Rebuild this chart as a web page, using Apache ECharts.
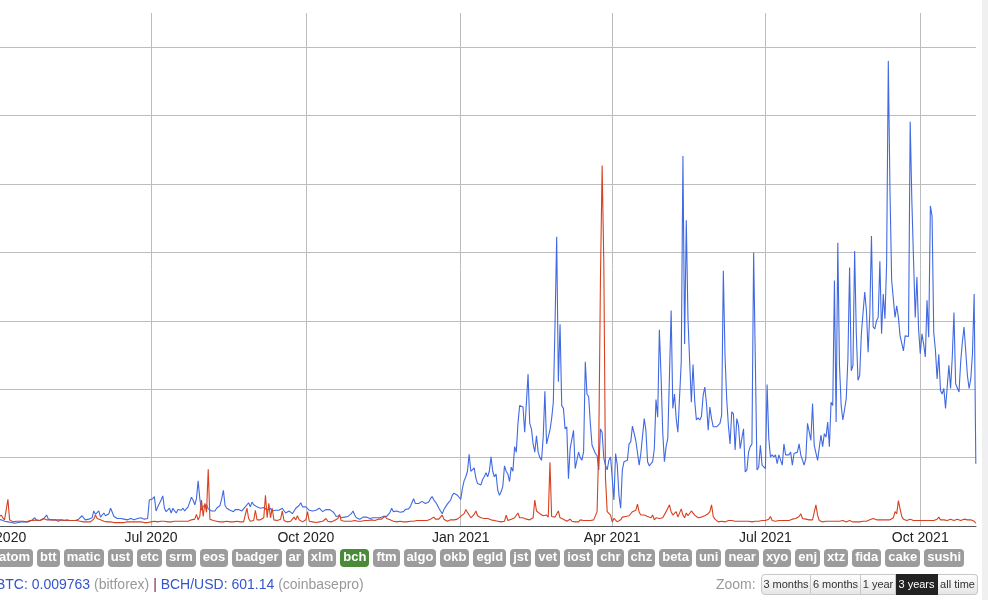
<!DOCTYPE html>
<html>
<head>
<meta charset="utf-8">
<script src="https://cdn.jsdelivr.net/npm/echarts@6/dist/echarts.min.js"></script>
<style>
html,body{margin:0;padding:0;width:988px;height:600px;overflow:hidden;background:#fff;font-family:Arial,"Liberation Sans",sans-serif;}
#chart{position:absolute;left:0;top:0;width:988px;height:600px;}
#tags{position:absolute;left:-4px;top:549px;white-space:nowrap;font-size:0;}
#tags span{display:inline-block;height:18px;line-height:18px;padding:0 3px;margin-right:4px;border-radius:4px;background:#9c9c9c;color:#fff;font:bold 13px Arial,"Liberation Sans",sans-serif;vertical-align:top;}
#tags span.on{background:#4a8a3a;}
#info{position:absolute;left:-37.5px;top:576px;font-size:14px;line-height:16px;white-space:nowrap;color:#3355cc;}
#info .g{color:#999;}
#info .s{color:#7a1848;}
#zoomlbl{position:absolute;left:716px;top:576px;font-size:14px;line-height:16px;color:#999;}
#zoombtns{position:absolute;left:761px;top:574px;height:21px;display:flex;}
#zoombtns div{box-sizing:border-box;height:21px;line-height:19px;border:1px solid #c8c8c8;border-left:none;font-size:11px;color:#333;text-align:center;background:linear-gradient(#fdfdfd,#e6e6e6);white-space:nowrap;}
#zoombtns div:first-child{border-left:1px solid #c8c8c8;border-radius:4px 0 0 4px;}
#zoombtns div:last-child{border-radius:0 4px 4px 0;}
#zoombtns div.on{background:#222;color:#fff;border-color:#222;}
#strip{position:absolute;left:982px;top:0;width:6px;height:600px;background:#f0f0f0;}
</style>
</head>
<body>
<div id="chart"></div>
<div id="tags"></div>
<div id="info"></div>
<div id="zoomlbl">Zoom:</div>
<div id="zoombtns"></div>
<div id="strip"></div>
<script>
// ---- data (one value per day, starting 2020-04-01) ----
const startYear = 2020, startMonth = 3, startDay = 1;

const blueSeries = [
10,9,9,8,7,8,6,6,5,4,
4,4,5,5,6,5,6,7,6,7,
8,9,12,8,9,8,9,10,11,16,
10,8,9,8,9,8,7,8,9,8,
8,7,8,9,8,7,8,9,10,9,
15,12,9,9,10,9,12,22,17,18,
22,13,11,19,15,14,18,26,20,14,
13,11,10,11,12,10,11,9,10,11,
10,9,10,11,10,12,11,10,10,11,
38,36,40,43,22,28,33,38,44,26,
21,20,26,19,26,22,19,24,25,23,
26,22,23,28,35,42,38,31,40,66,
40,23,29,27,31,25,23,22,24,22,
26,24,30,40,52,30,26,24,23,21,
21,24,26,24,23,22,25,28,30,34,
28,35,31,29,28,27,26,28,27,28,
23,25,26,22,21,23,24,23,24,26,
26,19,21,22,20,18,22,26,24,30,
34,28,27,28,26,23,22,22,24,23,
25,26,24,21,22,24,26,24,22,21,
18,14,16,15,12,11,13,14,14,16,
18,22,16,12,11,10,12,13,12,13,
12,11,10,12,14,12,11,12,13,14,
13,14,15,20,26,21,19,22,23,20,
22,21,24,26,25,28,34,40,33,31,
33,34,36,38,33,31,35,40,43,38,
35,31,26,22,18,24,28,32,35,38,
45,48,50,45,42,39,55,66,72,80,
105,80,78,85,70,62,62,60,68,72,
78,72,80,101,80,72,76,52,45,50,
58,88,80,76,65,86,80,116,108,150,
176,178,174,137,135,222,150,142,120,108,
132,108,100,96,130,197,120,118,140,157,
181,293,423,211,295,176,172,142,145,69,
113,113,140,84,96,108,100,96,109,240,
193,189,150,118,120,106,103,82,142,137,
99,89,82,96,101,70,38,106,89,45,
26,82,94,95,96,120,123,146,145,125,
123,89,106,108,157,140,94,88,87,94,
113,185,159,287,220,137,94,116,128,220,
315,172,193,157,137,136,240,541,266,447,
303,240,181,236,183,155,158,155,160,191,
203,179,140,174,157,145,146,145,144,150,
162,373,249,186,147,120,167,164,111,157,
147,113,128,142,79,82,108,116,120,400,
244,82,86,118,89,89,84,207,128,101,
104,101,104,91,104,104,89,120,104,104,
104,108,89,106,104,108,120,104,104,89,
99,150,138,125,179,118,118,96,96,133,
116,135,130,152,116,181,176,359,152,414,
235,176,155,170,186,244,378,227,235,402,
281,213,220,281,283,342,315,254,310,424,
291,288,300,305,387,281,339,303,383,680,
490,359,359,305,322,305,278,278,256,278,
277,277,591,475,388,305,364,288,252,281,
266,247,330,276,468,453,283,257,215,251,
198,193,201,172,172,235,201,247,312,208,
208,196,240,269,291,291,220,201,215,252,
339,91
];

const redSeries = [
12,14,16,12,9,10,39,9,7,6,
6,7,6,7,8,7,7,6,7,8,
7,8,10,9,9,8,9,11,9,9,
8,9,8,9,10,9,8,9,8,8,
9,9,8,8,9,8,8,8,7,7,
7,6,7,6,7,6,8,10,16,11,
9,9,8,7,6,6,7,6,6,5,
6,5,5,5,6,5,5,6,6,6,
6,6,5,6,5,6,5,5,5,5,
6,6,6,7,6,6,7,7,8,7,
7,6,6,6,6,7,7,7,8,7,
8,7,8,7,8,9,9,10,17,9,
14,38,14,33,20,83,10,9,8,7,
7,6,6,6,6,6,7,6,6,6,
6,6,7,6,6,7,6,7,26,11,
7,6,8,23,9,8,9,9,12,45,
12,33,12,26,9,8,8,9,10,22,
8,6,6,7,7,8,13,9,15,9,
7,6,7,9,21,7,6,6,5,5,
5,6,6,7,8,11,7,6,6,7,
8,9,11,17,8,6,7,8,7,8,
7,7,8,7,7,8,7,7,8,9,
8,8,9,8,8,9,10,9,10,11,
14,11,10,9,8,7,7,6,6,7,
6,6,7,6,7,7,8,7,8,8,
7,8,9,8,9,8,9,10,11,13,
10,9,10,11,16,10,8,7,8,9,
10,9,11,10,12,14,16,18,24,20,
16,12,14,17,22,15,14,12,10,11,
12,11,10,9,8,8,7,7,6,6,
6,7,16,8,9,10,11,12,11,19,
12,11,12,13,10,11,9,11,12,38,
22,22,18,17,15,14,16,13,93,14,
13,13,15,22,12,11,10,9,7,8,
10,7,8,6,7,6,9,11,8,7,
8,7,8,9,9,9,21,118,360,527,
385,70,21,19,16,6,11,9,6,8,
9,13,12,14,15,15,16,21,21,23,
32,20,16,16,16,15,14,13,12,16,
9,12,13,11,10,12,12,21,21,31,
21,16,16,21,13,15,25,16,12,19,
15,16,22,21,16,16,12,13,13,14,
15,16,18,21,31,14,10,8,6,6,
7,7,6,7,8,7,8,9,7,6,
7,8,7,6,7,8,7,7,6,6,
7,8,7,8,8,7,8,9,10,14,
8,6,7,7,8,9,8,9,8,9,
8,9,10,9,11,10,14,18,11,12,
10,9,9,8,9,10,31,16,8,7,
6,7,7,6,7,8,7,6,7,7,
7,6,8,7,6,7,8,7,6,7,
6,7,6,8,7,6,7,8,9,10,
11,10,9,8,9,10,9,8,9,8,
9,10,12,21,18,37,25,14,10,9,
8,9,10,9,8,9,8,9,8,7,
8,7,8,9,8,7,8,9,10,13,
9,8,9,10,8,9,10,9,8,9,
10,9,8,9,10,8,9,10,9,8,
7,4
];

const quarterDates = [[2020,4,1],[2020,7,1],[2020,10,1],[2021,1,1],[2021,4,1],[2021,7,1],[2021,10,1]];
const quarterLabels = ['Apr 2020','Jul 2020','Oct 2020','Jan 2021','Apr 2021','Jul 2021','Oct 2021'];

const tagNames = ['atom','btt','matic','ust','etc','srm','eos','badger','ar','xlm','bch','ftm','algo','okb','egld','jst','vet','iost','chr','chz','beta','uni','near','xyo','enj','xtz','fida','cake','sushi'];
const activeTag = 'bch';

const zoomNames = ['3 months','6 months','1 year','3 years','all time'];
const activeZoom = '3 years';

const pairPrice = '0.009763', pairSource = 'bitforex';
const usdPrice = '601.14', usdSource = 'coinbasepro';

// visible window of the time axis, in days after the first data day
const viewStartDay = 1.3, viewEndDay = 581.1;

// ---- build ----
const DAY = 86400000;
const day0 = new Date(startYear, startMonth, startDay).getTime();
function dayTime(i){ return new Date(startYear, startMonth, startDay + i).getTime(); }
const blueData = blueSeries.map((v,i)=>[dayTime(i), v]);
const redData = redSeries.map((v,i)=>[dayTime(i), v]);
const quarterTimes = quarterDates.map(d=>new Date(d[0], d[1]-1, d[2]).getTime());

const chart = echarts.init(document.getElementById('chart'), null, {renderer:'canvas'});
chart.setOption({
  animation:false,
  backgroundColor:'transparent',
  grid:{left:0, right:12, top:13, bottom:74, containLabel:false},
  xAxis:{
    type:'time', min:day0 + viewStartDay*DAY, max:day0 + viewEndDay*DAY,
    axisLine:{show:true, onZero:true, lineStyle:{color:'#555', width:1}},
    axisTick:{show:false}, axisLabel:{show:false}, splitLine:{show:false}
  },
  yAxis:{
    type:'value', min:0, max:750, interval:100,
    axisLine:{show:false}, axisTick:{show:false}, axisLabel:{show:false},
    splitLine:{show:true, showMinLine:false, showMaxLine:false, lineStyle:{color:'#bdbdbd', width:1}}
  },
  series:[
    {
      type:'line', name:'volume', data:blueData, showSymbol:false, symbol:'none', z:10, clip:true,
      lineStyle:{color:'#4169e1', width:1.1}, itemStyle:{color:'#4169e1'},
      emphasis:{disabled:true}, silent:true,
      markLine:{
        silent:true, symbol:['none','none'], animation:false,
        lineStyle:{color:'#bdbdbd', width:1, type:'solid'},
        emphasis:{disabled:true},
        label:{show:false},
        data:quarterTimes.map((t,i)=>({name:quarterLabels[i], xAxis:t}))
      }
    },
    {
      type:'line', name:'pair', data:redData, showSymbol:false, symbol:'none', z:11, clip:true,
      lineStyle:{color:'#d7411e', width:1.1}, itemStyle:{color:'#d7411e'},
      emphasis:{disabled:true}, silent:true
    }
  ]
});

// quarter labels, placed through the axis scale (the first one lies just left of the view)
const baseY = chart.convertToPixel({yAxisIndex:0}, 0);
chart.setOption({
  graphic: quarterTimes.map((t,i)=>({
    type:'text', silent:true, z:20,
    x: chart.convertToPixel({xAxisIndex:0}, t),
    y: baseY + 12,
    style:{text:quarterLabels[i], fill:'#222', fontSize:14, fontFamily:'Arial, "Liberation Sans", sans-serif',
           align:'center', verticalAlign:'middle', textAlign:'center', textVerticalAlign:'middle'}
  }))
});

// tags
const tagsEl = document.getElementById('tags');
tagNames.forEach(t=>{
  const s = document.createElement('span');
  s.textContent = t;
  if (t === activeTag) s.className = 'on';
  tagsEl.appendChild(s);
});

// info line
document.getElementById('info').innerHTML =
  'BCH/BTC: ' + pairPrice + ' <span class="g">(' + pairSource + ')</span> <span class="s">|</span> BCH/USD: ' +
  usdPrice + ' <span class="g">(' + usdSource + ')</span>';

// zoom buttons
const zoomWidths = [50,50,35,42,40];
const zb = document.getElementById('zoombtns');
zoomNames.forEach((z,i)=>{
  const d = document.createElement('div');
  d.textContent = z;
  d.style.width = zoomWidths[i] + 'px';
  if (z === activeZoom) d.className = 'on';
  zb.appendChild(d);
});
</script>
</body>
</html>
